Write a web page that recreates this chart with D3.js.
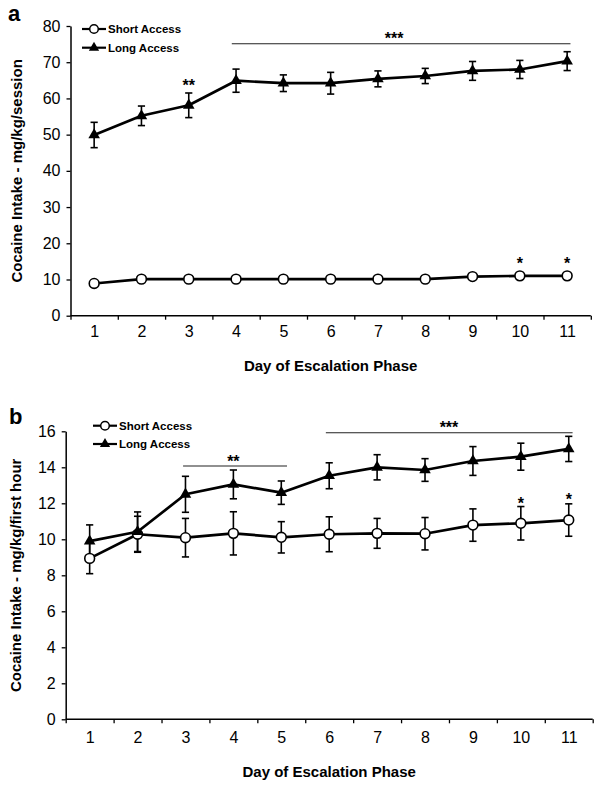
<!DOCTYPE html>
<html><head><meta charset="utf-8">
<script src="https://cdn.jsdelivr.net/npm/d3@7"></script>
<style>
html,body{margin:0;padding:0;background:#fff;}
svg{display:block;font-family:"Liberation Sans",Arial,Helvetica,sans-serif;}
</style></head>
<body>
<svg id="chart" width="602" height="790"></svg>
<script>
// ---------------- DATA ----------------
const days = [1,2,3,4,5,6,7,8,9,10,11];
const dayLabels = ["1","2","3","4","5","6","7","8","9","10","11"];
const seriesNames = ["Short Access","Long Access"];

// Panel a: mg/kg/session
const aShortMean = [8.9,10.1,10.1,10.1,10.1,10.1,10.1,10.1,10.8,11.0,11.0];
const aShortSem  = [0.5,0.5,0.5,0.5,0.5,0.5,0.5,0.5,0.5,0.5,0.5];
const aLongMean  = [49.9,55.2,58.1,64.9,64.2,64.2,65.4,66.2,67.6,68.0,70.3];
const aLongSem   = [3.5,2.7,3.4,3.2,2.3,3.0,2.2,2.1,2.6,2.5,2.6];
const aTicks = [0,10,20,30,40,50,60,70,80];

// Panel b: mg/kg/first hour
const bShortMean = [8.94,10.28,10.09,10.33,10.11,10.28,10.33,10.31,10.79,10.89,11.07];
const bShortSem  = [0.85,1.0,1.07,1.2,0.87,0.97,0.83,0.9,0.9,0.93,0.9];
const bLongMean  = [9.9,10.42,12.5,13.05,12.59,13.53,14.0,13.85,14.35,14.59,15.02];
const bLongSem   = [0.9,1.1,1.0,0.8,0.65,0.72,0.7,0.63,0.8,0.75,0.7];
const bTicks = [0,2,4,6,8,10,12,14,16];

// significance annotations (day units / value units)
const aBars  = [{from:3.91, to:11.07, y:75.1}];
const aStars = [{day:3, y:64.4, text:"**"},{day:7.34, y:77.5, text:"***"},{day:10, y:15.4, text:"*"},{day:11, y:15.4, text:"*"}];
const bBars  = [{from:2.95, to:5.12, y:14.07},{from:5.93, to:11.08, y:15.92}];
const bStars = [{day:4, y:14.49, text:"**"},{day:8.5, y:16.4, text:"***"},{day:10, y:12.16, text:"*"},{day:11, y:12.38, text:"*"}];

// ---------------- DRAW ----------------
const svg = d3.select("#chart");
const FONT = "'Liberation Sans',Arial,Helvetica,sans-serif";

function panel(o){
  const g = svg.append("g");
  const x = d3.scaleLinear().domain([0.5, 11.5]).range([o.x0, o.x1]);
  const y = d3.scaleLinear().domain([0, o.ymax]).range([o.yb, o.yt]);

  // x axis: ticks at band boundaries
  const xTickAxis = d3.axisBottom(x).tickValues(d3.range(0.5, 12, 1)).tickSize(4).tickFormat("");
  const xa = g.append("g").attr("transform",`translate(0,${o.yb})`).call(xTickAxis);
  xa.select(".domain").attr("stroke","#000").attr("stroke-width",1.5).attr("d",`M${o.x0},0H${o.x1}`);
  xa.selectAll(".tick line").attr("stroke","#000").attr("stroke-width",1.3);
  const xLab = d3.axisBottom(x).tickValues(days).tickSize(0).tickPadding(o.xPad).tickFormat((d,i)=>dayLabels[i]);
  const xl = g.append("g").attr("transform",`translate(0,${o.yb})`).call(xLab);
  xl.select(".domain").remove();
  xl.selectAll("text").attr("font-size",16).attr("font-family",FONT).attr("fill","#000");

  // y axis
  const ya = g.append("g").attr("transform",`translate(${o.x0},0)`)
    .call(d3.axisLeft(y).tickValues(o.ticks).tickSize(4).tickPadding(6).tickSizeOuter(0));
  ya.select(".domain").attr("stroke","#000").attr("stroke-width",1.5);
  ya.selectAll(".tick line").attr("stroke","#000").attr("stroke-width",1.3);
  ya.selectAll("text").attr("font-size",16).attr("font-family",FONT).attr("fill","#000");

  // titles
  g.append("text").attr("x",(o.x0+o.x1)/2).attr("y",o.xTitleY).attr("text-anchor","middle")
    .attr("font-size",15).attr("font-weight","bold").attr("font-family",FONT).text("Day of Escalation Phase");
  g.append("text").attr("transform",`translate(${o.yTitleX},${(o.yt+o.yb)/2}) rotate(-90)`)
    .attr("text-anchor","middle").attr("font-size",15).attr("font-weight","bold").attr("font-family",FONT)
    .text(o.yTitle);
  g.append("text").attr("x",o.labX).attr("y",o.labY).attr("font-size",22).attr("font-weight","bold")
    .attr("font-family",FONT).text(o.label);

  const line = d3.line().x((d,i)=>x(days[i])).y(d=>y(d));
  const series = [
    {mean:o.shortMean, sem:o.shortSem, type:"circle"},
    {mean:o.longMean, sem:o.longSem, type:"triangle"}
  ];
  // lines
  series.forEach(s=>{
    g.append("path").datum(s.mean).attr("d",line).attr("fill","none")
      .attr("stroke","#000").attr("stroke-width",2.7).attr("stroke-linejoin","round");
  });
  // error bars
  series.forEach(s=>{
    const eb = g.append("g");
    s.mean.forEach((m,i)=>{
      const cx = x(days[i]), top = y(m + s.sem[i]), bot = y(m - s.sem[i]);
      eb.append("line").attr("x1",cx).attr("x2",cx).attr("y1",top).attr("y2",bot)
        .attr("stroke","#000").attr("stroke-width",1.6);
      [top,bot].forEach(yy=>eb.append("line").attr("x1",cx-3.6).attr("x2",cx+3.6)
        .attr("y1",yy).attr("y2",yy).attr("stroke","#000").attr("stroke-width",1.6));
    });
  });
  // markers
  const tri = d3.symbol().type(d3.symbolTriangle).size(58);
  series.forEach(s=>{
    s.mean.forEach((m,i)=>{
      if(s.type==="circle"){
        g.append("circle").attr("cx",x(days[i])).attr("cy",y(m)).attr("r",4.9)
          .attr("fill","#fff").attr("stroke","#000").attr("stroke-width",1.6);
      } else {
        g.append("path").attr("d",tri()).attr("transform",`translate(${x(days[i])},${y(m)})`)
          .attr("fill","#000");
      }
    });
  });

  // significance bars & stars
  o.bars.forEach(b=>{
    g.append("line").attr("x1",x(b.from)).attr("x2",x(b.to)).attr("y1",y(b.y)).attr("y2",y(b.y))
      .attr("stroke","#222").attr("stroke-width",1.1);
  });
  o.stars.forEach(s=>{
    g.append("text").attr("x",x(s.day)).attr("y",y(s.y)+9).attr("text-anchor","middle")
      .attr("font-size",16).attr("font-weight","bold").attr("font-family",FONT).text(s.text);
  });

  // legend
  const legY = [o.legY1, o.legY2];
  series.forEach((s,k)=>{
    const ly = legY[k];
    g.append("line").attr("x1",o.legX).attr("x2",o.legX+24).attr("y1",ly).attr("y2",ly)
      .attr("stroke","#000").attr("stroke-width",2.2);
    if(s.type==="circle"){
      g.append("circle").attr("cx",o.legX+12).attr("cy",ly).attr("r",4.3)
        .attr("fill","#fff").attr("stroke","#000").attr("stroke-width",1.5);
    } else {
      g.append("path").attr("d",d3.symbol().type(d3.symbolTriangle).size(46)())
        .attr("transform",`translate(${o.legX+12},${ly})`).attr("fill","#000");
    }
    g.append("text").attr("x",o.legX+26).attr("y",ly+4).attr("font-size",11.5).attr("font-weight","bold")
      .attr("font-family",FONT).text(seriesNames[k]);
  });
}

panel({
  x0:70.5, x1:590.8, yt:26, yb:315.7, ymax:80, ticks:aTicks,
  shortMean:aShortMean, shortSem:aShortSem, longMean:aLongMean, longSem:aLongSem,
  yTitle:"Cocaine Intake - mg/kg/session", yTitleX:22, xTitleY:371, xPad:10,
  label:"a", labX:8, labY:21, legX:82, legY1:29, legY2:47.7,
  bars:aBars, stars:aStars
});
panel({
  x0:65.7, x1:592.7, yt:431.3, yb:719.3, ymax:16, ticks:bTicks,
  shortMean:bShortMean, shortSem:bShortSem, longMean:bLongMean, longSem:bLongSem,
  yTitle:"Cocaine Intake - mg/kg/first hour", yTitleX:21, xTitleY:777, xPad:12,
  label:"b", labX:9, labY:424, legX:93, legY1:425.7, legY2:444,
  bars:bBars, stars:bStars
});
</script>
</body></html>
